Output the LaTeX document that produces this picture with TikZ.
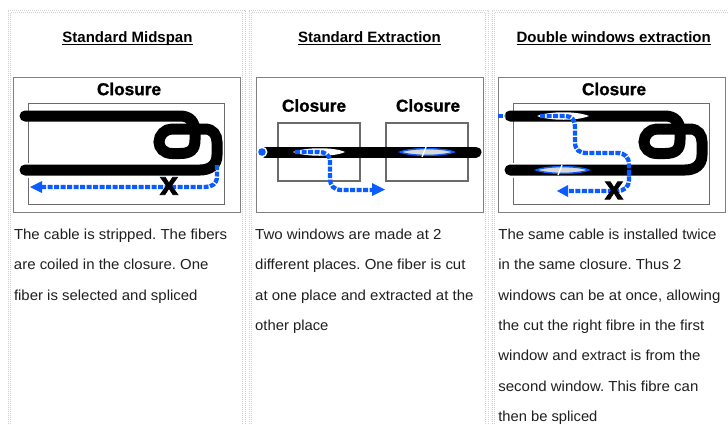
\documentclass[tikz,border=0pt]{standalone}
\usepackage{fontspec}
\usepackage{graphicx}
\setmainfont{Liberation Sans}
\newfontfamily\heavyfont[BoldFeatures={FakeBold=1.2}]{Liberation Sans}
\newfontfamily\xfont[BoldFeatures={FakeBold=2}]{Liberation Sans}
\usetikzlibrary{arrows.meta}
\definecolor{fiberblue}{HTML}{0A5CFF}
\definecolor{framegray}{HTML}{808080}
\newcommand\ttlu[1]{\setbox0\hbox{#1}\rlap{\vrule width\wd0 height -1.6pt depth 3pt}\box0}
\newcommand\fitline[2]{\resizebox{#1pt}{\height}{\frenchspacing #2}}
\tikzset{
  px/.style={x=1pt,y=-1pt},
  bodytext/.style={anchor=base west,inner sep=0pt,font=\fontsize{14.5}{16}\selectfont,text=black!88},
  titletext/.style={anchor=base,inner sep=0pt,font=\fontsize{15}{16}\bfseries\selectfont},
  closuretext/.style={anchor=center,inner sep=0pt,font=\fontsize{17.2}{18}\heavyfont\bfseries\selectfont},
  picframe/.style={draw=framegray,line width=1pt,fill=white},
  innerbox/.style={draw=black!58,line width=1.5pt},
  cable/.style={draw=black,line width=11pt,line cap=round},
  fiber/.style={draw=fiberblue,line width=4.3pt,dash pattern=on 5pt off 1.5pt},
  fibertip/.style={fill=fiberblue,draw=none},
  xmark/.style={anchor=center,inner sep=0pt,font=\fontsize{33}{33}\xfont\bfseries\selectfont},
  dotband/.style={draw=black!18,line width=0.9pt,dash pattern=on 1pt off 1pt},
  winwhite/.style={fill=white,draw=none},
  winblue/.style={fill=black!15,draw=fiberblue,line width=1.4pt}
}
\newcommand\looppath{(25,116) -- (180,116) .. controls (190,116) and (195,122) .. (195,132) -- (195,140) .. controls (195,150) and (190,153.5) .. (180,153.5) -- (172,153.5) .. controls (164,153.5) and (159,148) .. (159,142) .. controls (159,135) and (165,129) .. (172,129) -- (205,129) .. controls (213,129) and (217,135) .. (217,142) -- (217,155) .. controls (217,165) and (210,170) .. (200,170) -- (25,170)}
\begin{document}
\begin{tikzpicture}[px]
\useasboundingbox (0,0) rectangle (728,424);
\fill[white] (0,0) rectangle (728,424);
% dotted column frames
\foreach \xa/\xb in {8/245,249/488,492/731}{
  \foreach \d in {0,2.5}{
    \draw[dotband] (\xa+\d,424) -- (\xa+\d,10+\d) -- (\xb-\d,10+\d) -- (\xb-\d,424);
  }
}
% titles
\node[titletext] (t1) at (127.5,42) {\ttlu{Standard Midspan}};
\node[titletext] (t2) at (369.5,42) {\ttlu{Standard Extraction}};
\node[titletext] (t3) at (613.7,42) {\ttlu{Double windows extraction}};
% panel 1
\draw[picframe] (13.5,77.5) rectangle (240.5,212.5);
\draw[innerbox] (28.5,103.5) rectangle (224.5,204.5);
\node[closuretext] (c1) at (129,89) {Closure};
\draw[white,line width=15pt] (25,170) -- (190,170);
\draw[cable] \looppath;
\coordinate (a1s) at (217,165);
\coordinate (a1e) at (41,187);
\draw[fiber] (a1s) -- (217,176) .. controls (217,184) and (212,187) .. (205,187) -- (a1e);
\fill[fibertip] (30,187) -- (42,181) -- (42,193) -- cycle;
\node[xmark] (x1) at (169,186) {x};
% panel 2
\draw[picframe] (256.5,77.5) rectangle (483.5,212.5);
\draw[innerbox,line width=1.1pt] (278,123) rectangle (360,181);
\draw[innerbox,line width=1.1pt] (386,123) rectangle (468,181);
\node[closuretext] (c2) at (314,105.5) {Closure};
\node[closuretext] (c3) at (428,105.5) {Closure};
\draw[cable] (265,152) -- (476,152);
\fill[white] (262,152) circle (5.5pt);
\fill[fiberblue] (262,152) circle (3.8pt);
\fill[winwhite] (293,152) .. controls (305,147) and (335,147) .. (345,152) .. controls (335,157) and (305,157) .. (293,152) -- cycle;
\draw[winblue] (400,152) .. controls (412,147.5) and (442,147.5) .. (454,152) .. controls (442,156.5) and (412,156.5) .. (400,152) -- cycle;
\draw[white,line width=1.3pt] (422,157) -- (426,147);
\coordinate (a2e) at (372,190);
\draw[fiber] (295,152) -- (318,152) .. controls (326,152) and (330,155) .. (330,162) -- (330,178) .. controls (330,186) and (334,190) .. (342,190) -- (a2e);
\fill[fibertip] (385,189.5) -- (372,183) -- (372,196) -- cycle;
% panel 3
\draw[picframe] (498.5,77.5) rectangle (725.5,212.5);
\begin{scope}[shift={(485,0)}]
\draw[innerbox] (28.5,103.5) rectangle (224.5,204.5);
\draw[white,line width=15pt] (25,170) -- (190,170);
\draw[cable] \looppath;
\end{scope}
\node[closuretext] (c4) at (614,89) {Closure};
\fill[winwhite] (537,116) .. controls (550,111) and (577,111) .. (589,116) .. controls (577,121) and (550,121) .. (537,116) -- cycle;
\draw[winblue] (536,170) .. controls (548,165.5) and (577,165.5) .. (589,170) .. controls (577,174.5) and (548,174.5) .. (536,170) -- cycle;
\draw[white,line width=1.3pt] (558,175) -- (562,165);
\draw[fiber] (498,116) -- (505,116);
\coordinate (a3e) at (568,191);
\draw[fiber] (540,116) -- (565,116) .. controls (572,116) and (575,120) .. (575,127) -- (575,142) .. controls (575,150) and (579,153) .. (587,153) -- (617,153) .. controls (625,153) and (629,157) .. (629,165) -- (629,180) .. controls (629,187) and (624,191) .. (617,191) -- (a3e);
\fill[fibertip] (557,191) -- (568,185) -- (568,197) -- cycle;
\node[xmark] (x2) at (614,190.5) {x};
% body text
\foreach \i/\w/\s in {0/213.2/{The cable is stripped. The fibers},1/194.5/{are coiled in the closure. One},2/183.5/{fiber is selected and spliced}}{
  \node[bodytext] at (13.8,239.4+30.35*\i) {\fitline{\w}{\s}};
}
\foreach \i/\w/\s in {0/186.3/{Two windows are made at 2},1/210.3/{different places. One fiber is cut},2/218.3/{at one place and extracted at the},3/73.3/{other place}}{
  \node[bodytext] at (255,239.4+30.35*\i) {\fitline{\w}{\s}};
}
\foreach \i/\w/\s in {0/218/{The same cable is installed twice},1/183/{in the same closure. Thus 2},2/222/{windows can be at once, allowing},3/206/{the cut the right fibre in the first},4/202/{window and extract is from the},5/200/{second window. This fibre can},6/99/{then be spliced}}{
  \node[bodytext] at (498.2,239.4+30.35*\i) {\fitline{\w}{\s}};
}
\end{tikzpicture}
\end{document}
